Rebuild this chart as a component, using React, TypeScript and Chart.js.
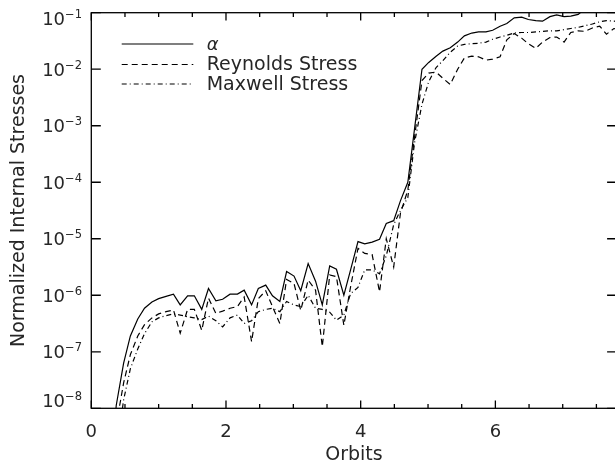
import React, { useEffect, useRef } from 'react';
import { Chart, registerables } from 'chart.js';

Chart.register(...registerables);

// Time in orbits of each sample
const orbits = [
  0.06, 0.16, 0.27, 0.37, 0.48, 0.58, 0.69, 0.79, 0.90, 1.00,
  1.11, 1.22, 1.32, 1.43, 1.53, 1.64, 1.74, 1.85, 1.95, 2.06,
  2.17, 2.27, 2.38, 2.48, 2.59, 2.69, 2.80, 2.90, 3.01, 3.11,
  3.22, 3.33, 3.43, 3.54, 3.64, 3.75, 3.85, 3.96, 4.06, 4.17,
  4.28, 4.38, 4.49, 4.59, 4.70, 4.80, 4.91, 5.01, 5.12, 5.22,
  5.33, 5.44, 5.54, 5.65, 5.75, 5.86, 5.96, 6.07, 6.17, 6.28,
  6.39, 6.49, 6.60, 6.70, 6.81, 6.91, 7.02, 7.12, 7.23, 7.33,
  7.44, 7.55, 7.65, 7.76, 7.86,
];

// log10 of each stress
const alphaLog10 = [
  -12, -11, -9.5, -7.95, -7.2, -6.72, -6.42, -6.23, -6.12, -6.06,
  -6.02, -5.98, -6.17, -6.01, -6.01, -6.25, -5.88, -6.10, -6.07, -5.98,
  -5.98, -5.91, -6.17, -5.88, -5.82, -6.01, -6.11, -5.58, -5.66, -5.92,
  -5.44, -5.75, -6.17, -5.48, -5.54, -6.00, -5.55, -5.05, -5.09, -5.06,
  -5.01, -4.73, -4.68, -4.33, -4.00, -3.05, -2.00, -1.88, -1.77, -1.68,
  -1.62, -1.52, -1.41, -1.36, -1.34, -1.34, -1.31, -1.24, -1.19, -1.09,
  -1.08, -1.12, -1.14, -1.15, -1.07, -1.04, -1.07, -1.06, -1.03, -0.93,
  -0.96, -0.92, -0.93, -0.90, -0.90,
];

const reynoldsLog10 = [
  -12, -11, -10, -8.3, -7.55, -7.05, -6.72, -6.52, -6.40, -6.33,
  -6.29, -6.26, -6.67, -6.25, -6.25, -6.62, -6.05, -6.32, -6.28, -6.23,
  -6.20, -6.03, -6.82, -6.06, -5.92, -6.20, -6.50, -5.72, -5.79, -6.27,
  -5.73, -5.91, -6.91, -5.64, -5.67, -6.53, -5.85, -5.17, -5.26, -5.28,
  -5.94, -5.00, -5.50, -4.55, -4.14, -3.20, -2.20, -2.07, -2.05, -2.16,
  -2.27, -2.00, -1.80, -1.77, -1.78, -1.84, -1.82, -1.78, -1.48, -1.37,
  -1.45, -1.55, -1.63, -1.52, -1.44, -1.43, -1.52, -1.35, -1.32, -1.33,
  -1.27, -1.24, -1.38, -1.28, -1.30,
];

const maxwellLog10 = [
  -12, -11.5, -10.5, -8.8, -7.85, -7.3, -6.95, -6.68, -6.47, -6.40,
  -6.36, -6.33, -6.35, -6.38, -6.40, -6.43, -6.37, -6.45, -6.56, -6.40,
  -6.35, -6.50, -6.45, -6.29, -6.25, -6.23, -6.29, -6.11, -6.17, -6.20,
  -6.00, -6.23, -6.25, -6.30, -6.44, -6.35, -5.97, -5.86, -5.55, -5.55,
  -5.62, -5.30, -4.75, -4.50, -4.27, -3.30, -2.62, -2.22, -1.97, -1.85,
  -1.70, -1.59, -1.56, -1.55, -1.54, -1.52, -1.47, -1.43, -1.40, -1.36,
  -1.35, -1.35, -1.34, -1.33, -1.32, -1.32, -1.30, -1.28, -1.26, -1.23,
  -1.20, -1.16, -1.14, -1.15, -1.16,
];

const seriesLabels = ['α', 'Reynolds Stress', 'Maxwell Stress'];
const yTickExponents = [-8, -7, -6, -5, -4, -3, -2, -1];
const xTickValues = [0, 0.5, 1, 1.5, 2, 2.5, 3, 3.5, 4, 4.5, 5, 5.5, 6, 6.5, 7, 7.5];
const xMajorTicks = [0, 2, 4, 6];

const FONT = '"DejaVu Sans", sans-serif';
const TEXT = '#262626';

function toPoints(logs: number[]) {
  return orbits.map((x, i) => ({ x, y: Math.pow(10, logs[i]) }));
}

const framePlugin = {
  id: 'frame',
  afterDraw(chart: any) {
    const { ctx, chartArea, scales } = chart;
    const { left, right, top, bottom } = chartArea;
    const xs = scales.x;
    const ys = scales.y;
    ctx.save();
    ctx.strokeStyle = '#000';
    ctx.lineWidth = 1.3;
    ctx.setLineDash([]);
    ctx.strokeRect(left, top, right - left, bottom - top);
    ctx.beginPath();
    for (const e of yTickExponents) {
      const py = ys.getPixelForValue(Math.pow(10, e));
      ctx.moveTo(left, py);
      ctx.lineTo(left + 9.5, py);
      ctx.moveTo(right - 9.5, py);
      ctx.lineTo(right, py);
    }
    for (const v of xTickValues) {
      const px = xs.getPixelForValue(v);
      const len = xMajorTicks.includes(v) ? 7.7 : 4.3;
      ctx.moveTo(px, bottom);
      ctx.lineTo(px, bottom - len);
      ctx.moveTo(px, top);
      ctx.lineTo(px, top + len);
    }
    ctx.stroke();

    // y tick labels: 10 with superscript exponent
    ctx.fillStyle = TEXT;
    ctx.textBaseline = 'middle';
    ctx.textAlign = 'right';
    yTickExponents.forEach((e, i) => {
      const py = ys.getPixelForValue(Math.pow(10, e));
      let off = 2;
      if (i === 0) off = -6;
      if (i === yTickExponents.length - 1) off = 7.5;
      const sup = '\u2212' + Math.abs(e);
      ctx.font = `11.5px ${FONT}`;
      const wSup = ctx.measureText(sup).width;
      ctx.fillText(sup, 82, py + off - 5.5);
      ctx.font = `18px ${FONT}`;
      ctx.fillText('10', 82 - wSup, py + off);
    });

    // legend
    const legendRows = [44, 64.5, 84];
    chart.data.datasets.forEach((ds: any, i: number) => {
      const y = legendRows[i];
      ctx.lineWidth = 1.2;
      ctx.setLineDash(ds.borderDash || []);
      ctx.beginPath();
      ctx.moveTo(121.7, y);
      ctx.lineTo(193.3, y);
      ctx.stroke();
      ctx.setLineDash([]);
      ctx.font = i === 0 ? `italic 18px ${FONT}` : `19px ${FONT}`;
      ctx.textAlign = 'left';
      ctx.textBaseline = 'middle';
      ctx.fillText(ds.label, 206.7, y + 1);
    });
    ctx.restore();
  },
};

export default function App() {
  const ref = useRef<HTMLCanvasElement>(null);
  useEffect(() => {
    if (!ref.current) return;
    const chart = new Chart(ref.current, {
      type: 'line',
      data: {
        datasets: [
          {
            label: seriesLabels[0],
            data: toPoints(alphaLog10),
            borderColor: '#000',
            borderWidth: 1.2,
            pointRadius: 0,
            tension: 0,
          },
          {
            label: seriesLabels[1],
            data: toPoints(reynoldsLog10),
            borderColor: '#000',
            borderWidth: 1.2,
            borderDash: [6, 4],
            pointRadius: 0,
            tension: 0,
          },
          {
            label: seriesLabels[2],
            data: toPoints(maxwellLog10),
            borderColor: '#000',
            borderWidth: 1.2,
            borderDash: [5, 3, 1, 3],
            pointRadius: 0,
            tension: 0,
          },
        ],
      },
      options: {
        animation: false,
        responsive: false,
        devicePixelRatio: 1,
        layout: { padding: { left: 0, top: 12.7, right: 3.4, bottom: 0 } },
        plugins: {
          legend: { display: false },
          tooltip: { enabled: false },
        },
        scales: {
          x: {
            type: 'linear',
            min: 0,
            max: 7.8,
            afterFit: (s: any) => {
              s.height = 56.7;
            },
            grid: { display: false, drawTicks: false },
            border: { display: false },
            ticks: {
              stepSize: 2,
              includeBounds: false,
              autoSkip: false,
              maxRotation: 0,
              padding: 15.2,
              color: TEXT,
              font: { family: FONT, size: 18, lineHeight: 1 },
            },
            title: {
              display: true,
              text: 'Orbits',
              color: TEXT,
              font: { family: FONT, size: 19, lineHeight: 1 },
              padding: { top: 0, bottom: 0 },
            },
          },
          y: {
            type: 'logarithmic',
            min: 1e-8,
            max: 1e-1,
            afterFit: (s: any) => {
              s.width = 91.3;
            },
            grid: { display: false, drawTicks: false },
            border: { display: false },
            ticks: { display: false },
            title: {
              display: true,
              text: 'Normalized Internal Stresses',
              color: TEXT,
              font: { family: FONT, size: 19, lineHeight: 1 },
              padding: { top: 9.5, bottom: 0 },
            },
          },
        },
      } as any,
      plugins: [framePlugin],
    });
    return () => chart.destroy();
  }, []);
  return (
    <div
      style={{
        position: 'fixed',
        left: 0,
        top: 0,
        width: 615,
        height: 465,
        overflow: 'hidden',
        background: '#fff',
      }}
    >
      <canvas ref={ref} width={620} height={465} style={{ display: 'block' }} />
    </div>
  );
}
